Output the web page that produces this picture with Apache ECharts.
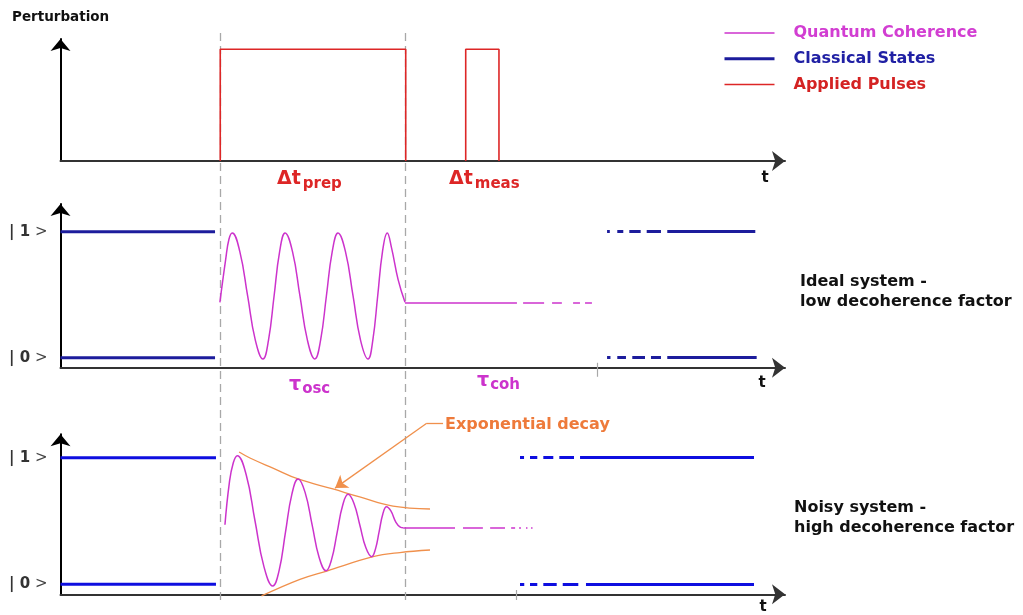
<!DOCTYPE html>
<html>
<head>
<meta charset="utf-8">
<script src="https://cdn.jsdelivr.net/npm/echarts@6/dist/echarts.min.js"></script>
<style>html,body{margin:0;padding:0;background:#fff;}#c{width:1023px;height:615px;}</style>
</head>
<body>
<div id="c"></div>
<script>
// ---------- data (time axis 0..100, state axis |0> = 0, |1> = 1) ----------
const pulseStart = [22.05, 55.93];
const pulseEnd = [47.65, 60.52];
const pulseHeight = 1;
const markerTimes = [22.05, 47.65];
const stateLevels = [0, 1];
const stateLabels = ['0', '1'];
const idealStateEnd = 21.33;
const noisyStateEnd = 21.46;

const idealOsc = [[22.0,0.44],[22.8,0.78],[23.25,0.94],[23.7,0.99],
  [24.76,0.84],[25.83,0.49],[26.89,0.14],[27.95,-0.01],
  [28.71,0.14],[29.48,0.49],[30.24,0.84],[31.0,0.99],
  [32.03,0.84],[33.05,0.49],[34.08,0.14],[35.1,-0.01],
  [35.9,0.14],[36.7,0.49],[37.5,0.84],[38.3,0.99],
  [39.34,0.84],[40.38,0.49],[41.41,0.14],[42.45,-0.01],
  [43.11,0.14],[43.78,0.49],[44.44,0.84],[45.1,0.99],
  [45.7,0.87],[46.6,0.62],[47.55,0.44]];
const idealRestLevel = 0.44;
const idealRestSegs = [[47.55,63.0],[63.85,66.75],[67.85,69.2],[70.75,71.7],[72.4,73.35]];
const idealState1Segs = [[75.44,75.82],[76.85,77.68],[78.51,80.08],[80.91,82.88],[83.75,95.9]];
const idealState0Segs = [[75.44,75.91],[76.85,78.05],[78.92,80.68],[81.5,82.88],[83.75,96.09]];
const idealTick = 74.09;

const noisyOsc = [[22.7,0.47],[23.3,0.8],[23.85,0.96],[24.4,1.016],
  [25.63,0.865],[26.85,0.5],[28.08,0.14],[29.3,-0.013],
  [30.18,0.11],[31.05,0.41],[31.93,0.71],[32.8,0.832],
  [33.76,0.726],[34.73,0.47],[35.69,0.214],[36.65,0.107],
  [37.41,0.195],[38.18,0.409],[38.94,0.623],[39.7,0.711],
  [40.51,0.639],[41.33,0.465],[42.14,0.29],[42.95,0.218],
  [43.46,0.276],[43.98,0.416],[44.49,0.555],[45.0,0.613],
  [45.6,0.58],[46.3,0.49],[46.9,0.452],[47.3,0.447]];
const noisyRestLevel = 0.447;
const noisyRestSegs = [[47.3,54.45],[55.55,58.3],[59.3,61.35],[62.2,62.75],[63.3,63.55],[64.25,64.45],[64.95,65.15]];
const noisyState1Segs = [[63.42,63.98],[64.8,65.81],[66.64,68.02],[68.85,70.88],[71.71,95.72]];
const noisyState0Segs = [[63.42,64.01],[64.8,65.81],[66.64,68.49],[69.32,71.47],[72.53,95.72]];
const noisyTick = 62.97;
const upperEnvelope = [[24.65,1.045],[26.15,0.998],[29.4,0.916],[32.8,0.832],[37.6,0.753],[41.3,0.69],[45.9,0.618],[51.0,0.595]];
const lowerEnvelope = [[27.75,-0.092],[33.05,0.039],[36.75,0.105],[43.15,0.218],[46.85,0.251],[51.0,0.271]];
const decayPointer = [[52.8,1.272],[50.55,1.272],[37.9,0.76]];

// ---------- styles ----------
const FONT = 'DejaVu Sans';
const MAGENTA = '#cc33cc', NAVY = '#1c1c9c', BLUE = '#0e0ee0', RED = '#dd2626', ORANGE = '#f0904c', GRAY = '#a8a8a8';
const L = 60.5, R = 238;

function segLines(segs, y, xi, color, width) {
  return {
    type: 'lines', coordinateSystem: 'cartesian2d', xAxisIndex: xi, yAxisIndex: xi,
    polyline: false, silent: true, clip: false, symbol: 'none', z: 3,
    lineStyle: { color: color, width: width, opacity: 1, type: 'solid', curveness: 0 },
    data: segs.map(s => ({ coords: [[s[0], y], [s[1], y]] }))
  };
}
function stateLine(name, xi, y, xEnd, color) {
  return { name: name, type: 'line', xAxisIndex: xi, yAxisIndex: xi, symbol: 'none', silent: true,
    lineStyle: { color: color, width: 3 }, itemStyle: { color: color },
    data: [[0, y], [xEnd, y]], z: 3 };
}
function tickLine(xi, x, y0, y1) {
  return { type: 'lines', coordinateSystem: 'cartesian2d', xAxisIndex: xi, yAxisIndex: xi, silent: true, clip: false,
    symbol: 'none', lineStyle: { color: GRAY, width: 1.2, opacity: 1 }, data: [{ coords: [[x, y0], [x, y1]] }] };
}
function xAx(i, show) {
  return { type: 'value', gridIndex: i, min: 0, max: 100, show: show,
    axisLine: { show: true, onZero: false, lineStyle: { color: '#333', width: 2 }, symbol: ['none', 'arrow'], symbolSize: [15, 13] },
    axisTick: { show: false }, axisLabel: { show: false }, splitLine: { show: false } };
}
function yAx(i, min, max, labels, show) {
  return { type: 'value', gridIndex: i, min: min, max: max, show: show,
    axisLine: { show: true, onZero: false, lineStyle: { color: '#000', width: 2 }, symbol: ['none', 'arrow'], symbolSize: [15, 12] },
    axisTick: { show: false }, splitLine: { show: false },
    axisLabel: labels ? {
      show: true, customValues: stateLevels, margin: 13,
      formatter: v => '{b|| ' + stateLabels[stateLevels.indexOf(v)] + '}{n| >}',
      rich: { b: { fontFamily: FONT, fontWeight: 'bold', fontSize: 15, color: '#333' },
              n: { fontFamily: FONT, fontWeight: 'normal', fontSize: 15, color: '#444' } }
    } : { show: false } };
}

const pulseSeries = pulseStart.map((s, i) => ({
  name: 'Applied Pulses', type: 'line', xAxisIndex: 0, yAxisIndex: 0, symbol: 'none', silent: true,
  lineStyle: { color: RED, width: 1.6 }, itemStyle: { color: RED }, z: 3,
  data: [[s, 0], [s, pulseHeight], [pulseEnd[i], pulseHeight], [pulseEnd[i], 0]]
}));

const pointerSegs = decayPointer.slice(1).map((p, i) => ({
  type: 'lines', coordinateSystem: 'cartesian2d', xAxisIndex: 2, yAxisIndex: 2, silent: true, clip: false,
  symbol: i === decayPointer.length - 2 ? ['none', 'arrow'] : 'none', symbolSize: [9, 12], z: 5,
  lineStyle: { color: ORANGE, width: 1.3, opacity: 1, curveness: 0 },
  data: [{ coords: [decayPointer[i], p] }]
}));

const option = {
  animation: false,
  backgroundColor: '#fff',
  legend: {
    orient: 'vertical', left: 723, top: 25, padding: 0, itemWidth: 50, itemHeight: 14, itemGap: 9.7,
    selectedMode: false,
    itemStyle: { opacity: 0 },
    textStyle: { fontFamily: FONT, fontWeight: 'bold', fontSize: 16, padding: [0, 0, 0, 14] },
    data: [
      { name: 'Quantum Coherence', textStyle: { color: '#d23ed2' }, lineStyle: { width: 1.5 } },
      { name: 'Classical States', textStyle: { color: '#2020a4' }, lineStyle: { width: 3 } },
      { name: 'Applied Pulses', textStyle: { color: '#d42222' }, lineStyle: { width: 1.5 } }
    ]
  },
  grid: [
    { left: L, right: R, top: 39, height: 122 },
    { left: L, right: R, top: 204, height: 163.7 },
    { left: L, right: R, top: 434.3, height: 160 },
    { left: L, right: R, top: 33, height: 567 }
  ],
  xAxis: [xAx(0, true), xAx(1, true), xAx(2, true), xAx(3, false)],
  yAxis: [yAx(0, 0, 1.092, false, true), yAx(1, -0.079, 1.22, true, true), yAx(2, -0.079, 1.185, true, true), yAx(3, 0, 1, false, false)],
  series: [
    { type: 'lines', coordinateSystem: 'cartesian2d', xAxisIndex: 3, yAxisIndex: 3, silent: true, z: 1,
      symbol: 'none', lineStyle: { color: GRAY, width: 1.3, type: [8, 5], opacity: 1 },
      data: markerTimes.map(t => ({ coords: [[t, 0], [t, 1]] })) },
    { name: 'Quantum Coherence', type: 'line', xAxisIndex: 1, yAxisIndex: 1, symbol: 'none', smooth: 0.45, silent: true,
      lineStyle: { color: MAGENTA, width: 1.5 }, itemStyle: { color: MAGENTA }, data: idealOsc, z: 4 },
    stateLine('Classical States', 1, 1, idealStateEnd, NAVY),
    stateLine('Classical States', 1, 0, idealStateEnd, NAVY),
    ...pulseSeries,
    segLines(idealRestSegs, idealRestLevel, 1, MAGENTA, 1.5),
    segLines(idealState1Segs, 1, 1, NAVY, 3),
    segLines(idealState0Segs, 0, 1, NAVY, 3),
    tickLine(1, idealTick, -0.04, -0.151),
    stateLine('Classical States', 2, 1, noisyStateEnd, BLUE),
    stateLine('Classical States', 2, 0, noisyStateEnd, BLUE),
    { name: 'Quantum Coherence', type: 'line', xAxisIndex: 2, yAxisIndex: 2, symbol: 'none', smooth: 0.45, silent: true, clip: false,
      lineStyle: { color: MAGENTA, width: 1.5 }, itemStyle: { color: MAGENTA }, data: noisyOsc, z: 4 },
    { type: 'line', xAxisIndex: 2, yAxisIndex: 2, symbol: 'none', smooth: 0.4, silent: true, clip: false,
      lineStyle: { color: ORANGE, width: 1.3 }, data: upperEnvelope, z: 3 },
    { type: 'line', xAxisIndex: 2, yAxisIndex: 2, symbol: 'none', smooth: 0.4, silent: true, clip: false,
      lineStyle: { color: ORANGE, width: 1.3 }, data: lowerEnvelope, z: 3 },
    ...pointerSegs,
    segLines(noisyRestSegs, noisyRestLevel, 2, MAGENTA, 1.5),
    segLines(noisyState1Segs, 1, 2, BLUE, 3),
    segLines(noisyState0Segs, 0, 2, BLUE, 3),
    tickLine(2, noisyTick, -0.045, -0.124)
  ],
  graphic: [
    { type: 'text', left: 12, top: 10, style: { text: 'Perturbation', font: 'bold 13.5px "DejaVu Sans"', fill: '#111' } },
    { type: 'text', x: 765, y: 178, style: { text: 't', font: 'bold 15px "DejaVu Sans"', fill: '#111', align: 'center', verticalAlign: 'middle' } },
    { type: 'text', x: 762, y: 383, style: { text: 't', font: 'bold 15px "DejaVu Sans"', fill: '#111', align: 'center', verticalAlign: 'middle' } },
    { type: 'text', x: 763, y: 607, style: { text: 't', font: 'bold 15px "DejaVu Sans"', fill: '#111', align: 'center', verticalAlign: 'middle' } },
    { type: 'text', x: 277, y: 167, style: { text: '{a|Δt}{s|prep}', fill: RED,
        rich: { a: { fontFamily: FONT, fontWeight: 'bold', fontSize: 19, fill: RED, color: RED },
                s: { fontFamily: FONT, fontWeight: 'bold', fontSize: 15, fill: RED, color: RED, padding: [10, 0, 0, 2] } } } },
    { type: 'text', x: 449, y: 167, style: { text: '{a|Δt}{s|meas}', fill: RED,
        rich: { a: { fontFamily: FONT, fontWeight: 'bold', fontSize: 19, fill: RED, color: RED },
                s: { fontFamily: FONT, fontWeight: 'bold', fontSize: 15, fill: RED, color: RED, padding: [10, 0, 0, 2] } } } },
    { type: 'text', x: 289, y: 374, style: { text: '{a|τ}{s|osc}', fill: MAGENTA,
        rich: { a: { fontFamily: FONT, fontWeight: 'bold', fontSize: 19, fill: MAGENTA, color: MAGENTA },
                s: { fontFamily: FONT, fontWeight: 'bold', fontSize: 15, fill: MAGENTA, color: MAGENTA, padding: [8, 0, 0, 1] } } } },
    { type: 'text', x: 477, y: 370, style: { text: '{a|τ}{s|coh}', fill: MAGENTA,
        rich: { a: { fontFamily: FONT, fontWeight: 'bold', fontSize: 19, fill: MAGENTA, color: MAGENTA },
                s: { fontFamily: FONT, fontWeight: 'bold', fontSize: 15, fill: MAGENTA, color: MAGENTA, padding: [8, 0, 0, 1] } } } },
    { type: 'text', x: 800, y: 282, style: { text: 'Ideal system -', font: 'bold 16px "DejaVu Sans"', fill: '#111', verticalAlign: 'middle' } },
    { type: 'text', x: 800, y: 302, style: { text: 'low decoherence factor', font: 'bold 16px "DejaVu Sans"', fill: '#111', verticalAlign: 'middle' } },
    { type: 'text', x: 794, y: 508, style: { text: 'Noisy system -', font: 'bold 16px "DejaVu Sans"', fill: '#111', verticalAlign: 'middle' } },
    { type: 'text', x: 794, y: 528, style: { text: 'high decoherence factor', font: 'bold 16px "DejaVu Sans"', fill: '#111', verticalAlign: 'middle' } },
    { type: 'text', x: 445, y: 425, style: { text: 'Exponential decay', font: 'bold 16px "DejaVu Sans"', fill: '#ee7a3a', verticalAlign: 'middle' } }
  ]
};
const chart = echarts.init(document.getElementById('c'));
chart.setOption(option);
</script>
</body>
</html>
